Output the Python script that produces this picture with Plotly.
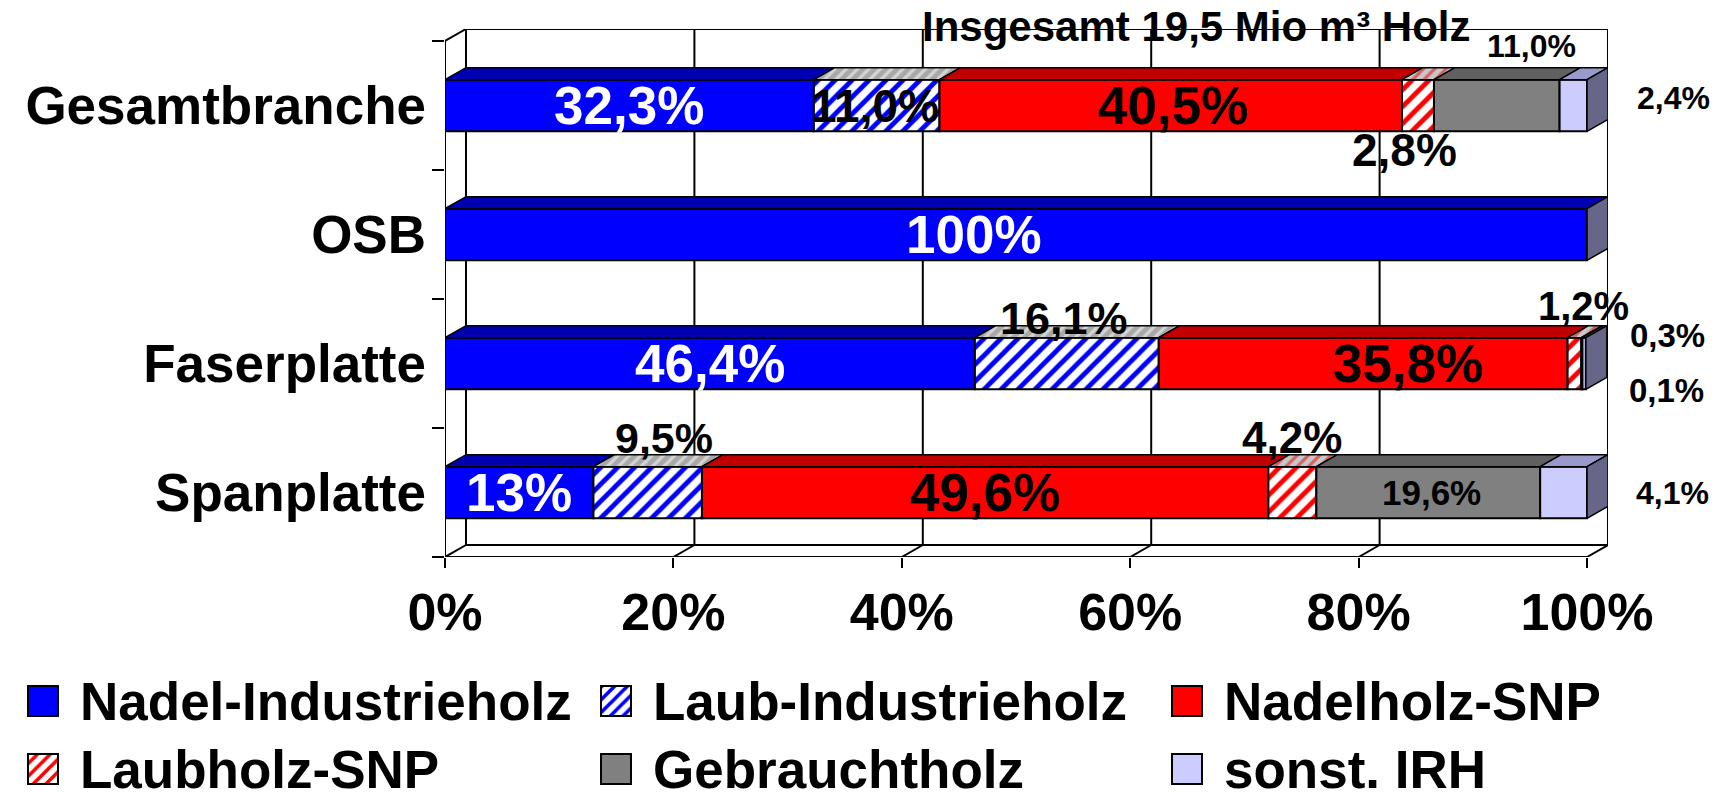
import plotly.graph_objects as go

# data (Anteile in %)
categories = ["Spanplatte", "Faserplatte", "OSB", "Gesamtbranche"]
series = ["Nadel-Industrieholz", "Laub-Industrieholz", "Nadelholz-SNP",
          "Laubholz-SNP", "Gebrauchtholz", "sonst. IRH"]

nadel_ind = [13.0, 46.4, 100.0, 32.3]
laub_ind = [9.5, 16.1, 0.0, 11.0]
nadel_snp = [49.6, 35.8, 0.0, 40.5]
laub_snp = [4.2, 1.2, 0.0, 2.8]
gebraucht = [19.6, 0.1, 0.0, 11.0]
sonst_irh = [4.1, 0.3, 0.0, 2.4]

lbl_nadel_ind = ["13%", "46,4%", "100%", "32,3%"]
lbl_laub_ind = ["9,5%", "16,1%", "", "11,0%"]
lbl_nadel_snp = ["49,6%", "35,8%", "", "40,5%"]
lbl_laub_snp = ["4,2%", "1,2%", "", "2,8%"]
lbl_gebraucht = ["19,6%", "0,1%", "", "11,0%"]
lbl_sonst_irh = ["4,1%", "0,3%", "", "2,4%"]

x_ticks = [0, 20, 40, 60, 80, 100]
x_ticktext = ["0%", "20%", "40%", "60%", "80%", "100%"]

title_text = "Insgesamt 19,5 Mio m³ Holz"

values = [nadel_ind, laub_ind, nadel_snp, laub_snp, gebraucht, sonst_irh]
labels = [lbl_nadel_ind, lbl_laub_ind, lbl_nadel_snp, lbl_laub_snp, lbl_gebraucht, lbl_sonst_irh]

# styles
FONT = "Liberation Sans, Arial, sans-serif"
W, H = 1724, 799
DX = 21 / 11.42      # 3D depth in % units
DY = 12 / 129        # 3D depth in category units
HALF = 0.2           # half bar thickness

front = ["#0000FF", "#0000FF", "#FF0000", "#FF0000", "#808080", "#CCCCFF"]
hatched = [False, True, False, True, False, False]
top = ["#0000B0", "#A8A8A8", "#C00000", "#C8C8C8", "#606060", "#9999CC"]
top_fg = [None, "#FFFFFF", None, "#E00000", None, None]
side_col = "#666688"

# label placement: (series, category) -> (xshift, yshift, size, color)
place = {
    (0, 0): (0, 0, 53, "white"), (0, 1): (0, 0, 53, "white"),
    (0, 2): (-42, 0, 53, "white"), (0, 3): (0, 0, 53, "white"),
    (1, 0): (16, 55, 43, "black"), (1, 1): (-3, 45, 45, "black"),
    (1, 3): (-2, 0, 46, "black"),
    (2, 0): (0, 0, 53, "black"), (2, 1): (45, 0, 53, "black"),
    (2, 3): (2, 0, 53, "black"),
    (3, 0): (0, 55, 44, "black"), (3, 1): (9, 58, 40, "black"),
    (3, 3): (-13, -44, 46, "black"),
    (4, 0): (3, 0, 35, "black"), (4, 1): (85, -27, 33, "black"),
    (4, 3): (35, 60, 32, "black"),
    (5, 0): (109, 0, 32, "black"), (5, 1): (83, 28, 33, "black"),
    (5, 3): (100, 8, 32, "black"),
}

fig = go.Figure()
cat_idx = list(range(len(categories)))

# front faces
bases = [0.0] * len(categories)
starts = []
for j, name in enumerate(series):
    st = bases[:]
    starts.append(st)
    if hatched[j]:
        marker = dict(color="white", line=dict(color="black", width=2),
                      pattern=dict(shape="/", fgcolor=front[j], bgcolor="white",
                                   size=12, solidity=0.4, fillmode="replace"))
    else:
        marker = dict(color=front[j], line=dict(color="black", width=2))
    fig.add_trace(go.Bar(y=cat_idx, x=values[j], base=st, orientation="h", width=2 * HALF,
                         marker=marker, name=name, showlegend=False, hoverinfo="skip"))
    bases = [b + v for b, v in zip(bases, values[j])]

# top faces
for j in range(len(series)):
    for i in cat_idx:
        v = values[j][i]
        if v <= 0:
            continue
        x0, x1 = starts[j][i], starts[j][i] + v
        yt = i + HALF
        kw = dict(fillcolor=top[j])
        if top_fg[j]:
            kw["fillpattern"] = dict(shape="/", fgcolor=top_fg[j], bgcolor=top[j],
                                     size=8, solidity=0.4)
        fig.add_trace(go.Scatter(x=[x0, x1, x1 + DX, x0 + DX, x0],
                                 y=[yt, yt, yt + DY, yt + DY, yt],
                                 mode="lines", fill="toself",
                                 line=dict(color="black", width=1.5),
                                 showlegend=False, hoverinfo="skip", **kw))

# side faces
for i in cat_idx:
    xe = bases[i]
    yb, yt = i - HALF, i + HALF
    fig.add_trace(go.Scatter(x=[xe, xe + DX, xe + DX, xe, xe],
                             y=[yb, yb + DY, yt + DY, yt, yb],
                             mode="lines", fill="toself", fillcolor=side_col,
                             line=dict(color="black", width=1.5),
                             showlegend=False, hoverinfo="skip"))

# walls, floor, gridlines
ln = dict(color="black", width=2)
ybot, ytop = -0.5, len(categories) - 0.5
shapes = []
for t in x_ticks:
    shapes.append(dict(type="line", xref="x", yref="y", x0=t + DX, x1=t + DX,
                       y0=ybot + DY, y1=ytop + DY, line=ln, layer="below"))
    shapes.append(dict(type="line", xref="x", yref="y", x0=t, x1=t + DX,
                       y0=ybot, y1=ybot + DY, line=ln, layer="below"))
shapes += [
    dict(type="line", xref="x", yref="y", x0=DX, x1=100 + DX, y0=ytop + DY, y1=ytop + DY, line=ln, layer="below"),
    dict(type="line", xref="x", yref="y", x0=DX, x1=100 + DX, y0=ybot + DY, y1=ybot + DY, line=ln, layer="below"),
    dict(type="line", xref="x", yref="y", x0=0, x1=100, y0=ybot, y1=ybot, line=ln),
    dict(type="line", xref="x", yref="y", x0=0, x1=0, y0=ybot, y1=ytop, line=ln),
    dict(type="line", xref="x", yref="y", x0=0, x1=DX, y0=ytop, y1=ytop + DY, line=ln),
]

# data labels
annotations = []
for j in range(len(series)):
    for i in cat_idx:
        txt = labels[j][i]
        if not txt:
            continue
        xs, ys, size, col = place.get((j, i), (0, 0, 53, "black"))
        annotations.append(dict(x=starts[j][i] + values[j][i] / 2, y=i, xref="x", yref="y",
                                text=txt, showarrow=False, xshift=xs, yshift=ys,
                                xanchor="center", yanchor="middle",
                                font=dict(family=FONT, size=size, color=col, weight="bold")))

annotations.append(dict(x=1196 / W, y=1 - 26 / H, xref="paper", yref="paper", text=title_text,
                        showarrow=False, xanchor="center", yanchor="middle",
                        font=dict(family=FONT, size=42, color="black", weight="bold")))

# legend (drawn by hand to get big swatches)
leg_x = [28, 601, 1172]
sw_y = [701, 769]
txt_y = [701, 769]
for j, name in enumerate(series):
    lx = leg_x[j % 3]
    if hatched[j]:
        marker = dict(color="white", line=dict(color="black", width=2),
                      pattern=dict(shape="/", fgcolor=front[j], bgcolor="white",
                                   size=9, solidity=0.4, fillmode="replace"))
    else:
        marker = dict(color=front[j], line=dict(color="black", width=2))
    fig.add_trace(go.Bar(x=[30], base=[lx], y=[sw_y[j // 3]], orientation="h", width=30,
                         marker=marker, xaxis="x2", yaxis="y2",
                         showlegend=False, hoverinfo="skip"))
    annotations.append(dict(x=lx + 50, y=txt_y[j // 3], xref="x2", yref="y2", text=name,
                            showarrow=False, xanchor="left", yanchor="middle",
                            font=dict(family=FONT, size=53, color="black", weight="bold")))

fig.update_layout(
    width=W, height=H,
    margin=dict(l=0, r=0, t=0, b=0, autoexpand=False),
    paper_bgcolor="white", plot_bgcolor="white",
    barmode="overlay",
    showlegend=False,
    shapes=shapes,
    annotations=annotations,
    xaxis=dict(domain=[445 / W, 1608 / W], range=[0, 100 + DX],
               tickvals=x_ticks, ticktext=x_ticktext,
               ticks="outside", ticklen=10, tickwidth=2, tickcolor="black",
               ticklabelstandoff=0,
               showgrid=False, zeroline=False, showline=False, automargin=False,
               tickfont=dict(family=FONT, size=52, color="black", weight="bold")),
    yaxis=dict(domain=[1 - 557 / H, 1 - 29 / H], range=[ybot, ytop + DY],
               tickvals=cat_idx, ticktext=categories, ticks="",
               ticklabelstandoff=18,
               minor=dict(tickmode="linear", tick0=-0.5, dtick=1, ticks="outside",
                          ticklen=12, tickwidth=2, tickcolor="black", showgrid=False),
               showgrid=False, zeroline=False, showline=False, automargin=False,
               tickfont=dict(family=FONT, size=53, color="black", weight="bold")),
    xaxis2=dict(domain=[0, 1], range=[0, W], visible=False, anchor="y2"),
    yaxis2=dict(domain=[0, 160 / H], range=[H, H - 160], visible=False, anchor="x2"),
)

# the page body has a default 8px margin; drop it so the figure fills the window
fig.write_html("out.html", config={"displayModeBar": False},
               post_script="document.body.style.margin='0px';")
